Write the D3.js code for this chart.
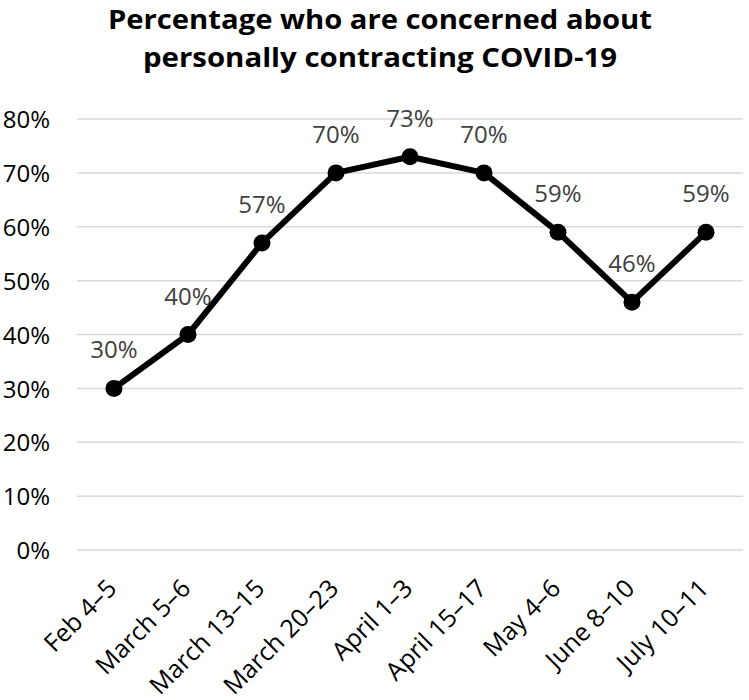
<!DOCTYPE html>
<html>
<head>
<meta charset="utf-8">
<script src="https://cdn.jsdelivr.net/npm/d3@7"></script>
<style>
  html, body { margin: 0; padding: 0; background: #fff; }
  svg { display: block; }
</style>
</head>
<body>
<svg id="chart" width="749" height="700"></svg>
<script>
const categories = ["Feb 4\u20135", "March 5\u20136", "March 13\u201315", "March 20\u201323", "April 1\u20133", "April 15\u201317", "May 4\u20136", "June 8\u201310", "July 10\u201311"];
const values = [30, 40, 57, 70, 73, 70, 59, 46, 59];
const yTicks = [0, 10, 20, 30, 40, 50, 60, 70, 80];
const titleLines = ["Percentage who are concerned about", "personally contracting COVID-19"];

const svg = d3.select("#chart");
const font = "'Open Sans', 'Noto Sans', sans-serif";

const x = d3.scaleBand().domain(categories).range([77, 743]);
const y = d3.scaleLinear().domain([0, 80]).range([550, 119]);

// Title
const titleW = [544, 474];
svg.append("g").selectAll("text").data(titleLines).join("text")
  .attr("x", 380)
  .attr("y", (d, i) => 29 + i * 38)
  .attr("text-anchor", "middle")
  .attr("font-family", font)
  .attr("font-weight", "bold")
  .attr("font-size", 27)
  .attr("fill", "#000")
  .attr("textLength", (d, i) => titleW[i])
  .attr("lengthAdjust", "spacingAndGlyphs")
  .text(d => d);

// Gridlines
svg.append("g").selectAll("line").data(yTicks).join("line")
  .attr("x1", 77).attr("x2", 743)
  .attr("y1", d => y(d)).attr("y2", d => y(d))
  .attr("stroke", "#d9d9d9").attr("stroke-width", 1.5);

// Y axis
const yAxis = d3.axisLeft(y).tickValues(yTicks).tickFormat(d => d + "%").tickSize(0).tickPadding(0);
const gy = svg.append("g").attr("transform", "translate(50,0)").call(yAxis);
gy.select(".domain").remove();
gy.selectAll("text").attr("font-family", font).attr("font-size", 24).attr("fill", "#000").attr("dy", "0.36em");

// X axis labels
const xAxis = d3.axisBottom(x).tickSize(0).tickPadding(0);
const gx = svg.append("g").attr("transform", "translate(0,550)").call(xAxis);
gx.select(".domain").remove();
gx.selectAll("text")
  .attr("font-family", font).attr("font-size", 25).attr("fill", "#000")
  .attr("text-anchor", "end")
  .attr("y", 0).attr("dy", 0)
  .attr("transform", "translate(4,40) rotate(-45)");

// Line
const cx = d => x(d) + x.bandwidth() / 2;
const line = d3.line().x((d, i) => cx(categories[i])).y(d => y(d));
svg.append("path").datum(values)
  .attr("d", line).attr("fill", "none")
  .attr("stroke", "#000").attr("stroke-width", 6).attr("stroke-linejoin", "round");

// Markers
svg.append("g").selectAll("circle").data(values).join("circle")
  .attr("cx", (d, i) => cx(categories[i]))
  .attr("cy", d => y(d))
  .attr("r", 8.5).attr("fill", "#000");

// Data labels
svg.append("g").selectAll("text").data(values).join("text")
  .attr("x", (d, i) => cx(categories[i]))
  .attr("y", d => y(d) - 30)
  .attr("text-anchor", "middle")
  .attr("font-family", font).attr("font-size", 24).attr("fill", "#404040")
  .text(d => d + "%");
</script>
</body>
</html>
